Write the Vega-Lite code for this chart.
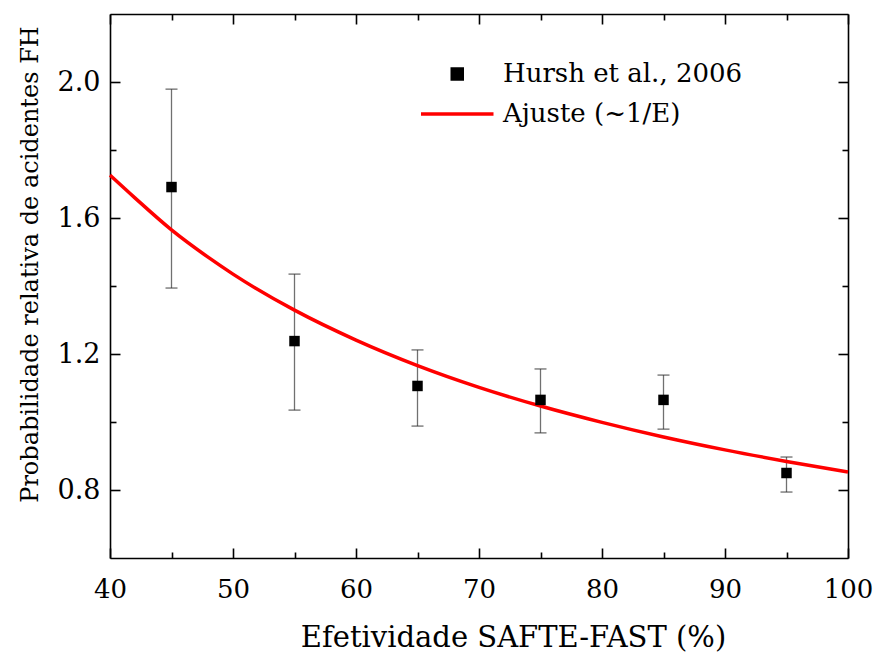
{
  "$schema": "https://vega.github.io/schema/vega-lite/v6.json",
  "width": 738,
  "height": 544,
  "autosize": {"type": "none"},
  "padding": {"left": 110, "top": 14, "right": 28, "bottom": 96},
  "background": "white",
  "config": {
    "view": {"stroke": null},
    "font": "DejaVu Serif",
    "axis": {"grid": false, "domainColor": "black", "domainWidth": 1.6, "tickColor": "black", "tickWidth": 1.6, "labelColor": "black", "titleColor": "black", "labelFont": "DejaVu Serif", "titleFont": "DejaVu Serif", "titleFontWeight": "normal"}
  },
  "datasets": {
    "pts": [
      {"E": 45, "p": 1.691, "lo": 1.394, "hi": 1.979, "series": "Hursh et al., 2006"},
      {"E": 55, "p": 1.238, "lo": 1.035, "hi": 1.435, "series": "Hursh et al., 2006"},
      {"E": 65, "p": 1.106, "lo": 0.988, "hi": 1.212, "series": "Hursh et al., 2006"},
      {"E": 75, "p": 1.065, "lo": 0.968, "hi": 1.156, "series": "Hursh et al., 2006"},
      {"E": 85, "p": 1.065, "lo": 0.979, "hi": 1.138, "series": "Hursh et al., 2006"},
      {"E": 95, "p": 0.850, "lo": 0.794, "hi": 0.897, "series": "Hursh et al., 2006"}
    ],
    "fit": [
      {"E": 40, "p": 1.726, "series": "Ajuste (~1/E)"},
      {"E": 42, "p": 1.660, "series": "Ajuste (~1/E)"},
      {"E": 45, "p": 1.565, "series": "Ajuste (~1/E)"},
      {"E": 48, "p": 1.484, "series": "Ajuste (~1/E)"},
      {"E": 50, "p": 1.435, "series": "Ajuste (~1/E)"},
      {"E": 55, "p": 1.329, "series": "Ajuste (~1/E)"},
      {"E": 60, "p": 1.241, "series": "Ajuste (~1/E)"},
      {"E": 65, "p": 1.166, "series": "Ajuste (~1/E)"},
      {"E": 70, "p": 1.102, "series": "Ajuste (~1/E)"},
      {"E": 75, "p": 1.047, "series": "Ajuste (~1/E)"},
      {"E": 80, "p": 0.999, "series": "Ajuste (~1/E)"},
      {"E": 85, "p": 0.956, "series": "Ajuste (~1/E)"},
      {"E": 90, "p": 0.918, "series": "Ajuste (~1/E)"},
      {"E": 95, "p": 0.884, "series": "Ajuste (~1/E)"},
      {"E": 100, "p": 0.853, "series": "Ajuste (~1/E)"}
    ]
  },
  "resolve": {"axis": {"x": "independent", "y": "independent"}},
  "layer": [
    {
      "data": {"name": "pts"},
      "mark": {"type": "rule", "color": "#707070", "strokeWidth": 1.3},
      "encoding": {
        "x": {"field": "E", "type": "quantitative", "scale": {"domain": [40, 100], "nice": false, "zero": false},
          "axis": {"orient": "bottom", "title": "Efetividade SAFTE-FAST (%)", "values": [40, 45, 50, 55, 60, 65, 70, 75, 80, 85, 90, 95, 100],
            "labelExpr": "datum.value % 10 === 0 ? datum.label : ''",
            "tickSize": {"condition": {"test": "datum.value % 10 === 0", "value": -10}, "value": -6},
            "labelFontSize": 26, "labelPadding": 49, "labelBaseline": "alphabetic", "labelFlush": false,
            "titleFontSize": 29, "titleX": 403, "titleY": 88, "titleBaseline": "alphabetic", "titleAnchor": null}},
        "y": {"field": "lo", "type": "quantitative", "scale": {"domain": [0.6, 2.2], "nice": false, "zero": false},
          "axis": {"orient": "left", "title": "Probabilidade relativa de acidentes FH", "values": [0.8, 1.0, 1.2, 1.4, 1.6, 1.8, 2.0],
            "labelExpr": "indexof([0.8, 1.2, 1.6, 2], datum.value) >= 0 ? format(datum.value, '.1f') : ''",
            "tickSize": {"condition": {"test": "indexof([0.8, 1.2, 1.6, 2], datum.value) >= 0", "value": -10}, "value": -6},
            "labelFontSize": 27, "labelPadding": 20, "labelFlush": false,
            "titleFontSize": 24, "titleX": -73, "titleY": 250, "titleBaseline": "alphabetic", "titleAngle": 270}},
        "y2": {"field": "hi"}
      }
    },
    {
      "data": {"name": "pts"},
      "mark": {"type": "tick", "orient": "horizontal", "color": "#303030", "size": 12, "thickness": 1.3},
      "encoding": {
        "x": {"field": "E", "type": "quantitative", "axis": null},
        "y": {"field": "lo", "type": "quantitative", "axis": null}
      }
    },
    {
      "data": {"name": "pts"},
      "mark": {"type": "tick", "orient": "horizontal", "color": "#303030", "size": 12, "thickness": 1.3},
      "encoding": {
        "x": {"field": "E", "type": "quantitative", "axis": null},
        "y": {"field": "hi", "type": "quantitative", "axis": null}
      }
    },
    {
      "data": {"name": "fit"},
      "mark": {"type": "line", "strokeWidth": 3.5, "interpolate": "monotone"},
      "encoding": {
        "x": {"field": "E", "type": "quantitative",
          "axis": {"orient": "top", "title": null, "labels": false, "values": [40, 45, 50, 55, 60, 65, 70, 75, 80, 85, 90, 95, 100],
            "tickSize": {"condition": {"test": "datum.value % 10 === 0", "value": -10}, "value": -6}}},
        "y": {"field": "p", "type": "quantitative",
          "axis": {"orient": "right", "title": null, "labels": false, "values": [0.8, 1.0, 1.2, 1.4, 1.6, 1.8, 2.0],
            "tickSize": {"condition": {"test": "indexof([0.8, 1.2, 1.6, 2], datum.value) >= 0", "value": -10}, "value": -6}}},
        "color": {"field": "series", "type": "nominal",
          "scale": {"domain": ["Hursh et al., 2006", "Ajuste (~1/E)"], "range": ["black", "#ff0000"]},
          "legend": {"orient": "none", "legendX": 365.5, "legendY": 47, "title": null, "padding": 0, "labelLimit": 0,
            "labelFont": "DejaVu Serif", "labelFontSize": 26, "labelColor": "black", "labelOffset": 1.5, "rowPadding": 14, "symbolSize": 100,
            "encode": {"symbols": {"update": {
              "shape": {"signal": "datum.value === 'Ajuste (~1/E)' ? 'M-13.5,0H1' : 'M-7.25,-1H-5.25V1H-7.25Z'"},
              "fill": {"signal": "datum.value === 'Ajuste (~1/E)' ? 'transparent' : 'black'"},
              "stroke": {"signal": "datum.value === 'Ajuste (~1/E)' ? '#ff0000' : 'transparent'"},
              "strokeWidth": {"value": 3.5},
              "opacity": {"value": 1}
            }}}}}
      }
    },
    {
      "data": {"name": "pts"},
      "mark": {"type": "point", "shape": "square", "filled": true, "size": 110, "opacity": 1},
      "encoding": {
        "x": {"field": "E", "type": "quantitative", "axis": null},
        "y": {"field": "p", "type": "quantitative", "axis": null},
        "color": {"field": "series", "type": "nominal",
          "scale": {"domain": ["Hursh et al., 2006", "Ajuste (~1/E)"], "range": ["black", "#ff0000"]},
          "legend": {"orient": "none", "legendX": 365.5, "legendY": 47, "title": null, "padding": 0, "labelLimit": 0,
            "labelFont": "DejaVu Serif", "labelFontSize": 26, "labelColor": "black", "labelOffset": 1.5, "rowPadding": 14, "symbolSize": 100,
            "encode": {"symbols": {"update": {
              "shape": {"signal": "datum.value === 'Ajuste (~1/E)' ? 'M-13.5,0H1' : 'M-7.25,-1H-5.25V1H-7.25Z'"},
              "fill": {"signal": "datum.value === 'Ajuste (~1/E)' ? 'transparent' : 'black'"},
              "stroke": {"signal": "datum.value === 'Ajuste (~1/E)' ? '#ff0000' : 'transparent'"},
              "strokeWidth": {"value": 3.5},
              "opacity": {"value": 1}
            }}}}}
      }
    }
  ]
}
